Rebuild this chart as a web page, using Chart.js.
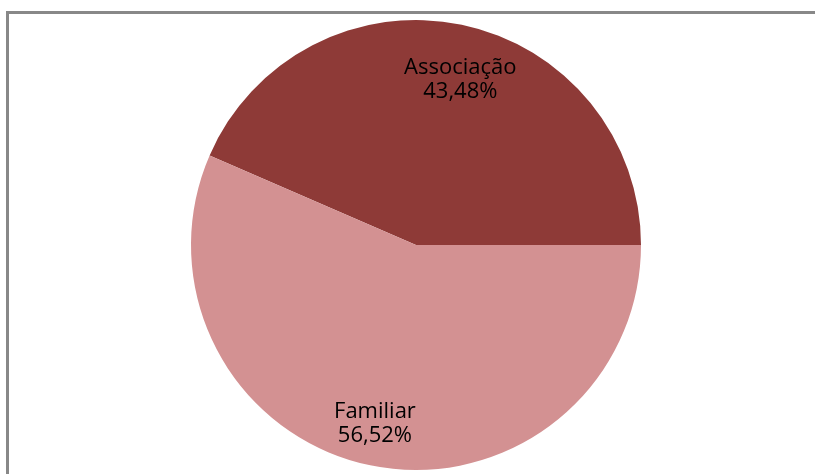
<!DOCTYPE html>
<html>
<head>
<meta charset="utf-8">
<script src="https://cdn.jsdelivr.net/npm/chart.js@4.4.0/dist/chart.umd.min.js"></script>
<style>
  html, body { margin: 0; padding: 0; background: #ffffff; }
  #wrap { position: relative; width: 815px; height: 474px; overflow: hidden; }
  #frame { position: absolute; left: 6px; top: 11px; width: 820px; height: 480px;
           border-left: 3px solid #888888; border-top: 3px solid #888888; box-sizing: border-box; }
  canvas { position: absolute; left: 0; top: 0; }
</style>
</head>
<body>
<div id="wrap">
  <div id="frame"></div>
  <canvas id="c" width="815" height="474"></canvas>
</div>
<script>
const categories = ["Associação", "Familiar"];
const values = [43.48, 56.52];
const valueLabels = ["43,48%", "56,52%"];
const colors = ["#8E3A37", "#D39192"];

const labelPlugin = {
  id: 'sliceLabels',
  afterDatasetsDraw(chart) {
    const ctx = chart.ctx;
    const meta = chart.getDatasetMeta(0);
    const fractions = [0.75, 0.81];
    const xShift = [10, -4];
    ctx.save();
    ctx.font = '22px "Open Sans", "Noto Sans", sans-serif';
    ctx.fillStyle = '#000000';
    ctx.textAlign = 'center';
    ctx.textBaseline = 'middle';
    meta.data.forEach((arc, i) => {
      const p = arc.getProps(['x', 'y', 'startAngle', 'endAngle', 'outerRadius'], true);
      const mid = (p.startAngle + p.endAngle) / 2;
      const r = p.outerRadius * fractions[i];
      const cx = p.x + Math.cos(mid) * r + xShift[i];
      const cy = p.y + Math.sin(mid) * r;
      ctx.fillText(categories[i], cx, cy - 12);
      ctx.fillText(valueLabels[i], cx, cy + 12);
    });
    ctx.restore();
  }
};

new Chart(document.getElementById('c'), {
  type: 'pie',
  data: {
    labels: categories,
    datasets: [{
      data: values,
      backgroundColor: colors,
      borderWidth: 0
    }]
  },
  options: {
    responsive: false,
    animation: false,
    rotation: -66.53,
    layout: { padding: { left: 191, right: 174, top: 20, bottom: 4 } },
    plugins: {
      legend: { display: false },
      tooltip: { enabled: false }
    }
  },
  plugins: [labelPlugin]
});
</script>
</body>
</html>
